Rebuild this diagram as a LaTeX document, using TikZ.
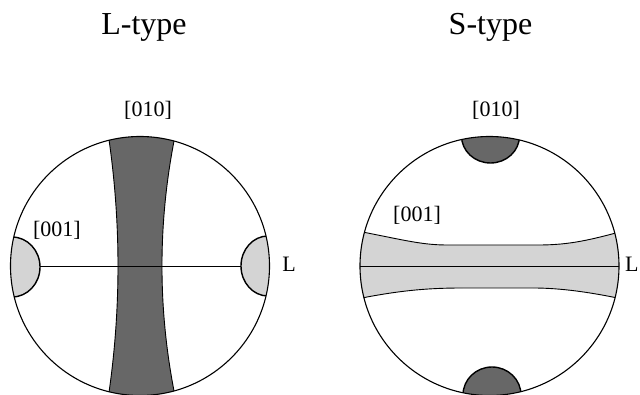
\documentclass[tikz,border=0pt]{standalone}
\usepackage{fontspec}
\setmainfont{Liberation Serif}
\begin{document}
\begin{tikzpicture}[x=1pt,y=-1pt,
  title/.style={anchor=base,font=\fontsize{32}{36}\selectfont,inner sep=0pt},
  lbl/.style={anchor=base,font=\fontsize{22}{26}\selectfont,inner sep=0pt},
  rim/.style={draw=black,line width=1.1pt},
  edge/.style={draw=black,line width=0.9pt},
  capline/.style={draw=black,line width=1.4pt}]
\definecolor{darkfill}{HTML}{676767}
\definecolor{lightfill}{HTML}{D4D4D4}
\useasboundingbox (0,0) rectangle (640,395);

% ---- L-type ----
\coordinate (cL) at (140,266);
\begin{scope}
  \clip (cL) circle (129.5);
  % vertical [010] band (parabolic edges)
  \fill[darkfill] (106,120) .. controls (122,217.3) and (122,314.7) .. (106,412)
     -- (178.4,412) .. controls (156.5,314.7) and (156.5,217.3) .. (178.4,120) -- cycle;
  \draw[edge] (106,120) .. controls (122,217.3) and (122,314.7) .. (106,412);
  \draw[edge] (178.4,120) .. controls (156.5,217.3) and (156.5,314.7) .. (178.4,412);
  % lineation
  \draw[line width=0.9pt] (10,266) -- (270,266);
  % [001] maxima at the ends of L
  \filldraw[fill=lightfill,capline] (12,267) ellipse [x radius=28,y radius=30];
  \filldraw[fill=lightfill,capline] (268,266) ellipse [x radius=27,y radius=30];
\end{scope}
\draw[rim] (cL) circle (129.5);

\node[title] (tL) at (144,35) {L-type};
\node[lbl] (aL) at (148,117) {[010]};
\node[lbl] (bL) at (57,237) {[001]};
\node[lbl] (lL) at (289,272) {L};

% ---- S-type ----
\coordinate (cS) at (489.5,266);
\begin{scope}
  \clip (cS) circle (129.5);
  % horizontal [001] girdle
  \fill[lightfill] (352,230) .. controls (400,239) and (420,245) .. (447,245)
     -- (538,245) .. controls (570,245) and (590,240) .. (627,230)
     -- (627,300) .. controls (590,292) and (560,288) .. (533,288)
     -- (463,288) .. controls (430,288) and (400,290) .. (352,300) -- cycle;
  \draw[edge] (352,230) .. controls (400,239) and (420,245) .. (447,245)
     -- (538,245) .. controls (570,245) and (590,240) .. (627,230);
  \draw[edge] (352,300) .. controls (400,290) and (430,288) .. (463,288)
     -- (533,288) .. controls (560,288) and (590,292) .. (627,300);
  % lineation
  \draw[line width=0.9pt] (358,266) -- (621,266);
  % [010] maxima at the poles
  \filldraw[fill=darkfill,capline] (490.5,136) ellipse [x radius=29,y radius=27];
  \filldraw[fill=darkfill,capline] (492,395) ellipse [x radius=29,y radius=28];
\end{scope}
\draw[rim] (cS) circle (129.5);

\node[title] (tS) at (490.5,35) {S-type};
\node[lbl] (aS) at (496,117) {[010]};
\node[lbl] (bS) at (417,222) {[001]};
\node[lbl,anchor=base west] (lS) at (625,272) {L};
\end{tikzpicture}
\end{document}
